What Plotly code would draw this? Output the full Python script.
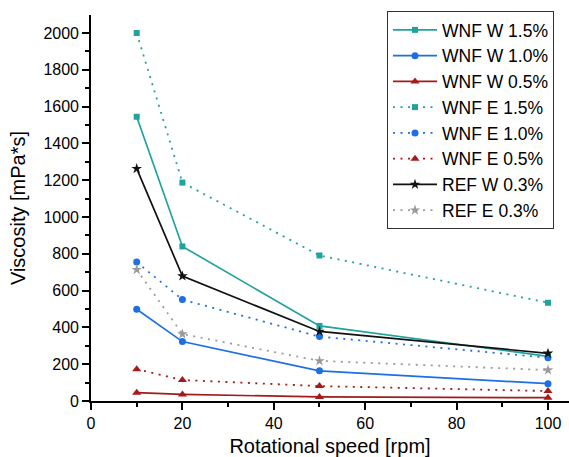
import plotly.graph_objects as go

speed = [10, 20, 50, 100]

wnf_w_15 = [1545, 840, 408, 243]
wnf_w_10 = [499, 323, 164, 94]
wnf_w_05 = [45, 36, 22, 18]
wnf_e_15 = [2000, 1187, 791, 534]
wnf_e_10 = [755, 551, 350, 235]
wnf_e_05 = [173, 114, 81, 54]
ref_w_03 = [1263, 679, 378, 259]
ref_e_03 = [714, 364, 218, 168]

x_ticks = [0, 20, 40, 60, 80, 100]
y_ticks = [0, 200, 400, 600, 800, 1000, 1200, 1400, 1600, 1800, 2000]

TEAL = "#1fa39c"
BLUE = "#1d6fe3"
RED = "#a31b1b"
BLACK = "#111111"
GRAY = "#9a9a9a"

DOT = "2px,5.5px"

series = [
    ("WNF W 1.5%", wnf_w_15, TEAL, "solid", "square", 6),
    ("WNF W 1.0%", wnf_w_10, BLUE, "solid", "circle", 7),
    ("WNF W 0.5%", wnf_w_05, RED, "solid", "triangle-up", 8),
    ("WNF E 1.5%", wnf_e_15, TEAL, DOT, "square", 6),
    ("WNF E 1.0%", wnf_e_10, BLUE, DOT, "circle", 7),
    ("WNF E 0.5%", wnf_e_05, RED, DOT, "triangle-up", 8),
    ("REF W 0.3%", ref_w_03, BLACK, "solid", "star", 8),
    ("REF E 0.3%", ref_e_03, GRAY, DOT, "star", 8),
]

fig = go.Figure()
for name, vals, col, dash, sym, size in series:
    fig.add_trace(go.Scatter(
        x=speed, y=vals, name=name, mode="lines+markers",
        line=dict(color=col, width=1.8 if dash != "solid" else 1.7, dash=dash),
        marker=dict(color=col, symbol=sym, size=size, line=dict(width=0)),
    ))

font = "Liberation Sans, Arial, sans-serif"
fig.update_layout(
    width=569, height=457,
    margin=dict(l=91, r=0, t=15, b=56, autoexpand=False),
    plot_bgcolor="white", paper_bgcolor="white",
    font=dict(family=font, color="black"),
    showlegend=True,
    legend=dict(
        xref="container", yref="container",
        x=387 / 569, y=1 - 11 / 457, xanchor="left", yanchor="top",
        bordercolor="#333333", borderwidth=1, bgcolor="white",
        font=dict(size=17.5, family=font), tracegroupgap=0,
        itemwidth=44,
    ),
    xaxis=dict(
        range=[0, 104.6], tickvals=x_ticks, showgrid=False, zeroline=False,
        automargin=False,
        showline=True, linecolor="black", linewidth=1.6,
        ticks="outside", ticklen=7, tickwidth=1.5, tickcolor="black",
        minor=dict(dtick=10, ticks="outside", ticklen=4, tickwidth=1.5, tickcolor="black"),
        tickfont=dict(size=16),
        title=dict(text="Rotational speed [rpm]", font=dict(size=20), standoff=13),
    ),
    yaxis=dict(
        range=[0, 2098], tickvals=y_ticks, showgrid=False, zeroline=False,
        automargin=False,
        showline=True, linecolor="black", linewidth=1.6,
        ticks="outside", ticklen=7, tickwidth=1.5, tickcolor="black",
        minor=dict(dtick=100, ticks="outside", ticklen=4, tickwidth=1.5, tickcolor="black"),
        tickfont=dict(size=16),
        title=dict(text="Viscosity [mPa*s]", font=dict(size=20), standoff=12),
    ),
)

fig.write_html(
    "out.html",
    config={"displayModeBar": False},
    post_script="document.body.style.margin='0';document.body.style.padding='0';",
)
